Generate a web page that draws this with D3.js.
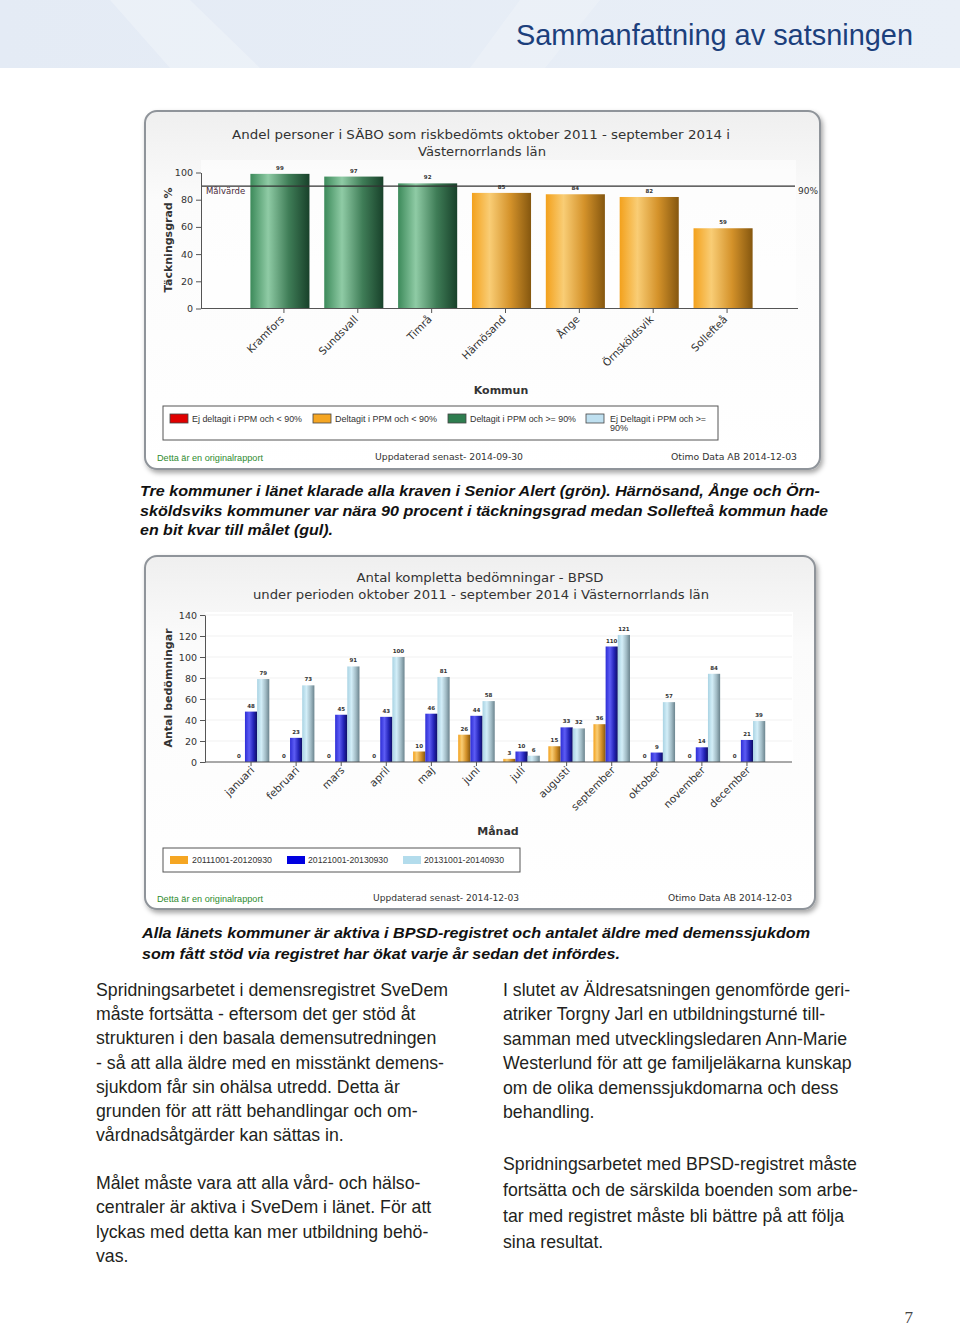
<!DOCTYPE html>
<html><head><meta charset="utf-8">
<script src="https://cdn.jsdelivr.net/npm/d3@7"></script>
<style>body{margin:0;background:#fff}svg{display:block}</style>
</head><body>
<svg id="s" width="960" height="1329"></svg>
<script>
// ---------- DATA ----------
const kommuner = ["Kramfors","Sundsvall","Timrå","Härnösand","Ånge","Örnsköldsvik","Sollefteå"];
const tackningsgrad = [99,97,92,85,84,82,59];
const malvarde = 90;
const yTicks1 = [0,20,40,60,80,100];
const legend1 = ["Ej deltagit i PPM och < 90%","Deltagit i PPM och < 90%","Deltagit i PPM och >= 90%","Ej Deltagit i PPM och >="];

const manader = ["januari","februari","mars","april","maj","juni","juli","augusti","september","oktober","november","december"];
const period1 = [0,0,0,0,10,26,3,15,36,0,0,0];
const period2 = [48,23,45,43,46,44,10,33,110,9,14,21];
const period3 = [79,73,91,100,81,58,6,32,121,57,84,39];
const perioder = ["20111001-20120930","20121001-20130930","20131001-20140930"];
const yTicks2 = [0,20,40,60,80,100,120,140];

const caption1 = ["Tre kommuner i länet klarade alla kraven i Senior Alert (grön). Härnösand, Ånge och Örn-",
 "sköldsviks kommuner var nära 90 procent i täckningsgrad medan Sollefteå kommun hade",
 "en bit kvar till målet (gul)."];
const caption2 = ["Alla länets kommuner är aktiva i BPSD-registret och antalet äldre med demenssjukdom",
 "som fått stöd via registret har ökat varje år sedan det infördes."];
const leftCol1 = ["Spridningsarbetet i demensregistret SveDem","måste fortsätta - eftersom det ger stöd åt",
 "strukturen i den basala demensutredningen","- så att alla äldre med en misstänkt demens-",
 "sjukdom får sin ohälsa utredd. Detta är","grunden för att rätt behandlingar och om-",
 "vårdnadsåtgärder kan sättas in."];
const leftCol2 = ["Målet måste vara att alla vård- och hälso-","centraler är aktiva i SveDem i länet. För att",
 "lyckas med detta kan mer utbildning behö-","vas."];
const rightCol1 = ["I slutet av Äldresatsningen genomförde geri-","atriker Torgny Jarl en utbildningsturné till-",
 "samman med utvecklingsledaren Ann-Marie","Westerlund för att ge familjeläkarna kunskap",
 "om de olika demenssjukdomarna och dess","behandling."];
const rightCol2 = ["Spridningsarbetet med BPSD-registret måste","fortsätta och de särskilda boenden som arbe-",
 "tar med registret måste bli bättre på att följa","sina resultat."];

// ---------- SETUP ----------
const svg = d3.select("#s");
const defs = svg.append("defs");
function hgrad(id, stops){
  const g = defs.append("linearGradient").attr("id",id).attr("x1","0%").attr("x2","100%").attr("y1","0%").attr("y2","0%");
  stops.forEach(s=>g.append("stop").attr("offset",s[0]).attr("stop-color",s[1]));
}
hgrad("gGreen",[["0%","#3c8a5a"],["30%","#8fcba5"],["65%","#3f7d57"],["100%","#18412a"]]);
hgrad("gOrange",[["0%","#f3a11c"],["30%","#f9cd75"],["65%","#d4922a"],["100%","#85570f"]]);
hgrad("gBlue",[["0%","#2d2dd6"],["35%","#5c5cf4"],["70%","#2424b8"],["100%","#0e0e62"]]);
hgrad("gLight",[["0%","#a9d3e3"],["35%","#d3eef8"],["70%","#a2bcc6"],["100%","#6b848e"]]);
const vg = defs.append("linearGradient").attr("id","frameBg").attr("x1","0").attr("x2","0").attr("y1","0").attr("y2","1");
vg.append("stop").attr("offset","0%").attr("stop-color","#efefef");
vg.append("stop").attr("offset","25%").attr("stop-color","#fbfbfb");
vg.append("stop").attr("offset","100%").attr("stop-color","#ffffff");
const hb = defs.append("linearGradient").attr("id","hdr").attr("x1","0").attr("x2","1").attr("y1","0").attr("y2","0");
hb.append("stop").attr("offset","0%").attr("stop-color","#e4ebf5");
hb.append("stop").attr("offset","100%").attr("stop-color","#e9eff7");
const f = defs.append("filter").attr("id","shadow").attr("x","-5%").attr("y","-5%").attr("width","115%").attr("height","115%");
f.append("feDropShadow").attr("dx",2).attr("dy",3).attr("stdDeviation",2.5).attr("flood-color","#000").attr("flood-opacity",0.35);

// ---------- HEADER ----------
svg.append("rect").attr("x",0).attr("y",0).attr("width",960).attr("height",68).attr("fill","url(#hdr)");
svg.append("polygon").attr("points","110,0 190,0 260,68 170,68").attr("fill","#ffffff").attr("opacity",0.25);
svg.append("polygon").attr("points","520,0 600,0 545,68 470,68").attr("fill","#ffffff").attr("opacity",0.2);
svg.append("text").attr("x",913).attr("y",45).attr("text-anchor","end")
  .attr("font-family","Liberation Sans, Arial, sans-serif").attr("font-size",29).attr("fill","#1c3f7c")
  .attr("textLength",397).attr("lengthAdjust","spacingAndGlyphs").text("Sammanfattning av satsningen");

const VF = "DejaVu Sans, Verdana, sans-serif";
const AF = "Liberation Sans, Arial, sans-serif";

function frame(x,y,w,h){
  svg.append("rect").attr("x",x).attr("y",y).attr("width",w).attr("height",h).attr("rx",12)
    .attr("fill","url(#frameBg)").attr("stroke","#8f949a").attr("stroke-width",2).attr("filter","url(#shadow)");
}
function txt(g,x,y,s,o={}){
  const t = g.append("text").attr("x",x).attr("y",y).text(s)
    .attr("font-family",o.ff||VF).attr("font-size",o.fs||10).attr("fill",o.fill||"#333")
    .attr("text-anchor",o.anchor||"start");
  if(o.bold) t.attr("font-weight","bold");
  if(o.italic) t.attr("font-style","italic");
  if(o.tl) t.attr("textLength",o.tl).attr("lengthAdjust","spacingAndGlyphs");
  return t;
}

// ---------- CHART 1 ----------
frame(145,111,675,358);
const c1 = svg.append("g");
txt(c1,481,139,"Andel personer i SÄBO som riskbedömts  oktober 2011 - september 2014 i",{fs:12.5,anchor:"middle",tl:498});
txt(c1,482,156,"Västernorrlands län",{fs:12.5,anchor:"middle",tl:128});

const x1 = d3.scaleBand().domain(kommuner).range([243,760]).paddingInner(0.2).paddingOuter(0.1);
const y1 = d3.scaleLinear().domain([0,100]).range([308.5,172.5]);

c1.append("rect").attr("x",201).attr("y",160).attr("width",595).attr("height",148).attr("fill","#ffffff").attr("opacity",0.6);

c1.selectAll("rect.bar").data(kommuner).join("rect").attr("class","bar")
  .attr("x",d=>x1(d)).attr("width",x1.bandwidth())
  .attr("y",(d,i)=>y1(tackningsgrad[i])).attr("height",(d,i)=>y1(0)-y1(tackningsgrad[i]))
  .attr("fill",(d,i)=>tackningsgrad[i]>=malvarde?"url(#gGreen)":"url(#gOrange)");
c1.selectAll("text.vl").data(kommuner).join("text").attr("class","vl")
  .attr("x",d=>x1(d)+x1.bandwidth()/2).attr("y",(d,i)=>y1(tackningsgrad[i])-4)
  .attr("text-anchor","middle").attr("font-family",VF).attr("font-size",5.5).attr("font-weight","bold").attr("fill","#333")
  .text((d,i)=>tackningsgrad[i]);

// target line
c1.append("line").attr("x1",201).attr("x2",795).attr("y1",y1(malvarde)).attr("y2",y1(malvarde)).attr("stroke","#333").attr("stroke-width",1.3);
txt(c1,206,194,"Målvärde",{fs:8.5,fill:"#4a2a3a"});
txt(c1,798,194,"90%",{fs:9,fill:"#333"});

// y axis
const ya1 = c1.append("g").attr("transform","translate(201,0)").call(d3.axisLeft(y1).tickValues(yTicks1).tickSize(5).tickSizeOuter(0));
ya1.select(".domain").attr("stroke","#555");
ya1.selectAll(".tick line").attr("stroke","#555");
ya1.selectAll(".tick text").attr("font-family",VF).attr("font-size",9.5).attr("fill","#333");
// x axis
c1.append("line").attr("x1",201).attr("x2",798).attr("y1",308.5).attr("y2",308.5).attr("stroke","#555").attr("stroke-width",1.2);
c1.selectAll("line.xt").data(kommuner).join("line").attr("class","xt")
  .attr("x1",d=>x1(d)+x1.bandwidth()/2+4).attr("x2",d=>x1(d)+x1.bandwidth()/2+4).attr("y1",308.5).attr("y2",313).attr("stroke","#555");
c1.selectAll("text.xl").data(kommuner).join("text").attr("class","xl")
  .attr("transform",d=>`translate(${x1(d)+x1.bandwidth()/2+5},320) rotate(-45)`)
  .attr("text-anchor","end").attr("font-family",VF).attr("font-size",10.5).attr("fill","#333").text(d=>d);
txt(c1,501,394,"Kommun",{fs:11,bold:true,anchor:"middle",fill:"#333"});
c1.append("text").attr("transform","translate(172,240) rotate(-90)").attr("text-anchor","middle")
  .attr("font-family",VF).attr("font-size",11).attr("font-weight","bold").attr("fill","#333").text("Täckningsgrad %");

// legend 1
c1.append("rect").attr("x",163).attr("y",406).attr("width",555).attr("height",34).attr("fill","#fff").attr("stroke","#555").attr("stroke-width",1);
const lg1 = [
  {sx:170, tx:192, fill:"#e00000", tl:110},
  {sx:313, tx:335, fill:"#f5a623", tl:102},
  {sx:448, tx:470, fill:"#2e7d4f", tl:106},
  {sx:586, tx:610, fill:"#bfe0f0", tl:96}
];
lg1.forEach((l,i)=>{
  c1.append("rect").attr("x",l.sx).attr("y",414).attr("width",18).attr("height",9).attr("fill",l.fill).attr("stroke","#444").attr("stroke-width",0.8);
  txt(c1,l.tx,422,legend1[i],{ff:AF,fs:9,fill:"#333",tl:l.tl});
});
txt(c1,610,431,"90%",{ff:AF,fs:9,fill:"#333"});
txt(c1,157,461,"Detta är en originalrapport",{ff:AF,fs:8.5,fill:"#2e8b2e",tl:106});
txt(c1,375,460,"Uppdaterad senast- 2014-09-30",{ff:VF,fs:8.5,fill:"#333",tl:148});
txt(c1,797,460,"Otimo Data AB 2014-12-03",{ff:VF,fs:8.5,fill:"#333",anchor:"end",tl:126});

// captions
const capStyle = {ff:AF,fs:15.5,bold:true,italic:true,fill:"#111"};
txt(svg,140,496,caption1[0],Object.assign({},capStyle,{tl:680}));
txt(svg,140,516,caption1[1],Object.assign({},capStyle,{tl:688}));
txt(svg,140,535,caption1[2],Object.assign({},capStyle,{tl:193}));

// ---------- CHART 2 ----------
frame(145,556,670,353);
const c2 = svg.append("g");
txt(c2,480,582,"Antal kompletta bedömningar - BPSD",{fs:12.5,anchor:"middle",tl:247});
txt(c2,481,599,"under perioden oktober 2011 - september 2014 i Västernorrlands län",{fs:12.5,anchor:"middle",tl:456});

const x2 = d3.scaleBand().domain(manader).range([228.5,769.5]).paddingInner(0.19).paddingOuter(0.095);
const xs = d3.scaleBand().domain([0,1,2]).range([0,x2.bandwidth()]).padding(0);
const y2 = d3.scaleLinear().domain([0,140]).range([762,615]);

c2.append("rect").attr("x",205).attr("y",612).attr("width",588).attr("height",150).attr("fill","#ffffff");
c2.selectAll("line.grid").data(yTicks2.slice(1)).join("line").attr("class","grid")
  .attr("x1",205).attr("x2",792).attr("y1",d=>y2(d)).attr("y2",d=>y2(d)).attr("stroke","#f1f1f1");

const series = [period1,period2,period3];
const fills = ["url(#gOrange)","url(#gBlue)","url(#gLight)"];
series.forEach((vals,si)=>{
  c2.selectAll(`rect.s${si}`).data(manader).join("rect").attr("class",`s${si}`)
    .attr("x",d=>x2(d)+xs(si)).attr("width",xs.bandwidth())
    .attr("y",(d,i)=>y2(vals[i])).attr("height",(d,i)=>y2(0)-y2(vals[i]))
    .attr("fill",fills[si]);
  c2.selectAll(`text.l${si}`).data(manader).join("text").attr("class",`l${si}`)
    .attr("x",d=>x2(d)+xs(si)+xs.bandwidth()/2).attr("y",(d,i)=>y2(vals[i])-4)
    .attr("text-anchor","middle").attr("font-family",VF).attr("font-size",5.5).attr("font-weight","bold").attr("fill","#333")
    .text((d,i)=>vals[i]);
});

const ya2 = c2.append("g").attr("transform","translate(205,0)").call(d3.axisLeft(y2).tickValues(yTicks2).tickSize(5).tickSizeOuter(0));
ya2.select(".domain").attr("stroke","#555");
ya2.selectAll(".tick line").attr("stroke","#555");
ya2.selectAll(".tick text").attr("font-family",VF).attr("font-size",9.5).attr("fill","#333");
c2.append("line").attr("x1",205).attr("x2",792).attr("y1",762).attr("y2",762).attr("stroke","#555").attr("stroke-width",1.2);
c2.selectAll("line.xt").data(manader).join("line").attr("class","xt")
  .attr("x1",d=>x2(d)+x2.bandwidth()/2).attr("x2",d=>x2(d)+x2.bandwidth()/2).attr("y1",762).attr("y2",766).attr("stroke","#555");
c2.selectAll("text.xl").data(manader).join("text").attr("class","xl")
  .attr("transform",d=>`translate(${x2(d)+x2.bandwidth()/2+4},771) rotate(-45)`)
  .attr("text-anchor","end").attr("font-family",VF).attr("font-size",10.5).attr("fill","#333").text(d=>d);
txt(c2,498,835,"Månad",{fs:11,bold:true,anchor:"middle"});
c2.append("text").attr("transform","translate(172,688) rotate(-90)").attr("text-anchor","middle")
  .attr("font-family",VF).attr("font-size",11).attr("font-weight","bold").attr("fill","#333").text("Antal bedömningar");

c2.append("rect").attr("x",163).attr("y",848).attr("width",357).attr("height",24).attr("fill","#fff").attr("stroke","#555");
const lg2 = [{sx:170,tx:192,fill:"#f5a623"},{sx:287,tx:308,fill:"#0000e0"},{sx:403,tx:424,fill:"#b3dcec"}];
lg2.forEach((l,i)=>{
  c2.append("rect").attr("x",l.sx).attr("y",856).attr("width",18).attr("height",8).attr("fill",l.fill);
  txt(c2,l.tx,863,perioder[i],{ff:AF,fs:9,fill:"#333",tl:80});
});
txt(c2,157,902,"Detta är en originalrapport",{ff:AF,fs:8.5,fill:"#2e8b2e",tl:106});
txt(c2,373,901,"Uppdaterad senast- 2014-12-03",{ff:VF,fs:8.5,fill:"#333",tl:146});
txt(c2,792,901,"Otimo Data AB 2014-12-03",{ff:VF,fs:8.5,fill:"#333",anchor:"end",tl:124});

txt(svg,142,938,caption2[0],Object.assign({},capStyle,{tl:668}));
txt(svg,142,959,caption2[1],Object.assign({},capStyle,{tl:478}));

// ---------- BODY TEXT ----------
const bodyStyle = {ff:AF,fs:17.7,fill:"#231f20"};
leftCol1.forEach((s,i)=>txt(svg,96,996+i*24.2,s,bodyStyle));
leftCol2.forEach((s,i)=>txt(svg,96,1189+i*24.3,s,bodyStyle));
rightCol1.forEach((s,i)=>txt(svg,503,996+i*24.4,s,bodyStyle));
rightCol2.forEach((s,i)=>txt(svg,503,1170+i*25.9,s,bodyStyle));
txt(svg,913,1323,"7",{ff:"Liberation Serif, Times New Roman, serif",fs:17,fill:"#444",anchor:"end"});
</script>
</body></html>
